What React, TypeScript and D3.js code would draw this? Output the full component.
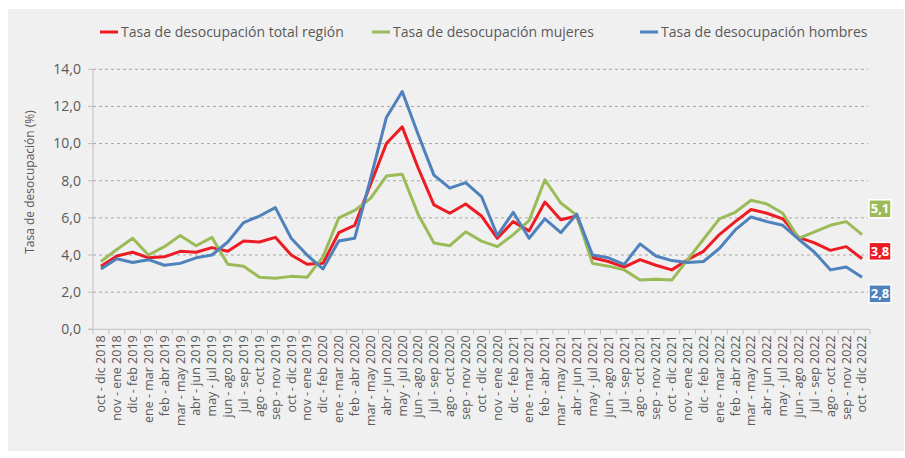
import React from 'react';
import * as d3 from 'd3';

// trimestres móviles, oct-dic 2018 a oct-dic 2022
const periods = [
  'oct - dic 2018', 'nov - ene 2018', 'dic - feb 2019', 'ene - mar 2019', 'feb - abr 2019', 'mar - may 2019',
  'abr - jun 2019', 'may - jul 2019', 'jun - ago 2019', 'jul - sep 2019', 'ago - oct 2019', 'sep - nov 2019',
  'oct - dic 2019', 'nov - ene 2019', 'dic - feb 2020', 'ene - mar 2020', 'feb - abr 2020', 'mar - may 2020',
  'abr - jun 2020', 'may - jul 2020', 'jun - ago 2020', 'jul - sep 2020', 'ago - oct 2020', 'sep - nov 2020',
  'oct - dic 2020', 'nov - ene 2020', 'dic - feb 2021', 'ene - mar 2021', 'feb - abr 2021', 'mar - may 2021',
  'abr - jun 2021', 'may - jul 2021', 'jun - ago 2021', 'jul - sep 2021', 'ago - oct 2021', 'sep - nov 2021',
  'oct - dic 2021', 'nov - ene 2021', 'dic - feb 2022', 'ene - mar 2022', 'feb - abr 2022', 'mar - may 2022',
  'abr - jun 2022', 'may - jul 2022', 'jun - ago 2022', 'jul - sep 2022', 'ago - oct 2022', 'sep - nov 2022',
  'oct - dic 2022',
];

const totalRegion = [
  3.4, 3.95, 4.15, 3.85, 3.9, 4.2, 4.15, 4.4, 4.2, 4.75, 4.7, 4.95,
  4.0, 3.5, 3.55, 5.2, 5.6, 7.8, 10.0, 10.9, 8.7, 6.7, 6.25, 6.75,
  6.1, 4.9, 5.8, 5.3, 6.85, 5.9, 6.1, 3.85, 3.65, 3.35, 3.75, 3.45,
  3.2, 3.75, 4.2, 5.1, 5.8, 6.45, 6.25, 5.95, 4.95, 4.65, 4.25, 4.45,
  3.8,
];

const mujeres = [
  3.65, 4.3, 4.9, 4.0, 4.45, 5.05, 4.5, 4.95, 3.5, 3.4, 2.8, 2.75,
  2.85, 2.8, 3.9, 6.0, 6.4, 7.05, 8.25, 8.35, 6.2, 4.65, 4.5, 5.25,
  4.75, 4.45, 5.1, 5.85, 8.05, 6.8, 6.15, 3.55, 3.4, 3.2, 2.65, 2.7,
  2.65, 3.75, 4.85, 5.95, 6.3, 6.95, 6.75, 6.25, 4.9, 5.25, 5.6, 5.8,
  5.1,
];

const hombres = [
  3.25, 3.8, 3.6, 3.75, 3.45, 3.55, 3.85, 4.0, 4.7, 5.75, 6.1, 6.55,
  4.9, 4.0, 3.25, 4.75, 4.9, 8.1, 11.4, 12.8, 10.5, 8.3, 7.6, 7.9,
  7.15, 5.05, 6.3, 4.9, 5.95, 5.2, 6.2, 4.0, 3.85, 3.5, 4.6, 3.95,
  3.7, 3.6, 3.65, 4.35, 5.35, 6.05, 5.8, 5.6, 4.85, 4.15, 3.2, 3.35,
  2.8,
];

const seriesNames = [
  'Tasa de desocupación total región',
  'Tasa de desocupación mujeres',
  'Tasa de desocupación hombres',
];

const yTicks = [0, 2, 4, 6, 8, 10, 12, 14];

const colors = ['#ed1c24', '#9bbb59', '#4f81bd'];
// label boxes at the line ends are nudged so they don't overlap
const labelShift = [-7.4, -25.8, 16.5];
const legendX = [100, 372, 640];

const fmt = (v: number) => v.toFixed(1).replace('.', ',');

export default function App() {
  const width = 905;
  const height = 458;
  const left = 93;
  const right = 870;
  const top = 69.3;
  const bottom = 329.3;
  const font = '"Open Sans", "DejaVu Sans", sans-serif';
  const grey = '#595959';

  const x = d3.scaleBand().domain(periods).range([left, right]);
  const y = d3.scaleLinear().domain([0, 14]).range([bottom, top]);
  const cx = (p: string) => (x(p) as number) + x.bandwidth() / 2;

  const line = d3
    .line<number>()
    .x((_, i) => cx(periods[i]))
    .y((d) => y(d));

  const series = [totalRegion, mujeres, hombres];

  return (
    <svg width={width} height={height} style={{ position: 'absolute', left: 0, top: 0 }}>
      <rect x={8} y={9} width={896} height={442} fill="#f0f0f0" />

      {/* legend */}
      {seriesNames.map((name, i) => (
        <g key={name}>
          <line x1={legendX[i]} x2={legendX[i] + 18} y1={32} y2={32} stroke={colors[i]} strokeWidth={3} />
          <text x={legendX[i] + 21} y={32} dy="0.35em" fontFamily={font} fontSize={14} fill={grey}>
            {name}
          </text>
        </g>
      ))}

      {/* grid */}
      {yTicks.slice(1).map((t) => (
        <line key={t} x1={left} x2={868} y1={y(t)} y2={y(t)} stroke="#a6a6a6" strokeDasharray="3,3" />
      ))}

      {/* y axis */}
      <line x1={left} x2={left} y1={top} y2={bottom} stroke="#bfbfbf" />
      {yTicks.map((t) => (
        <g key={t}>
          <line x1={left - 5} x2={left} y1={y(t)} y2={y(t)} stroke="#bfbfbf" />
          <text x={81} y={y(t)} dy="0.35em" textAnchor="end" fontFamily={font} fontSize={14} fill={grey}>
            {fmt(t)}
          </text>
        </g>
      ))}
      <text
        transform="translate(30,182) rotate(-90)"
        textAnchor="middle"
        dy="0.35em"
        fontFamily={font}
        fontSize={12}
        fill={grey}
      >
        Tasa de desocupación  (%)
      </text>

      {/* x axis */}
      <line x1={left - 5} x2={right} y1={bottom} y2={bottom} stroke="#bfbfbf" />
      {periods.map((p) => (
        <line key={'t' + p} x1={x(p)} x2={x(p)} y1={bottom} y2={bottom + 5} stroke="#bfbfbf" />
      ))}
      <line x1={right} x2={right} y1={bottom} y2={bottom + 5} stroke="#bfbfbf" />
      {periods.map((p) => (
        <text
          key={p}
          transform={`translate(${cx(p)},${bottom + 6}) rotate(-90)`}
          textAnchor="end"
          dy="0.35em"
          fontFamily={font}
          fontSize={12.5}
          fill={grey}
        >
          {p}
        </text>
      ))}

      {/* lines */}
      {series.map((s, i) => (
        <path
          key={seriesNames[i]}
          d={line(s) || ''}
          fill="none"
          stroke={colors[i]}
          strokeWidth={3}
          strokeLinejoin="round"
        />
      ))}

      {/* end labels */}
      {series.map((s, i) => {
        const last = s[s.length - 1];
        const cy = y(last) + labelShift[i];
        return (
          <g key={'lab' + i}>
            <rect x={869} y={cy - 9} width={22} height={18} fill={colors[i]} stroke="#fff" strokeWidth={1.5} />
            <text
              x={880}
              y={cy}
              dy="0.36em"
              textAnchor="middle"
              fontFamily={font}
              fontSize={13}
              fontWeight="bold"
              fill="#fff"
            >
              {fmt(last)}
            </text>
          </g>
        );
      })}
    </svg>
  );
}
